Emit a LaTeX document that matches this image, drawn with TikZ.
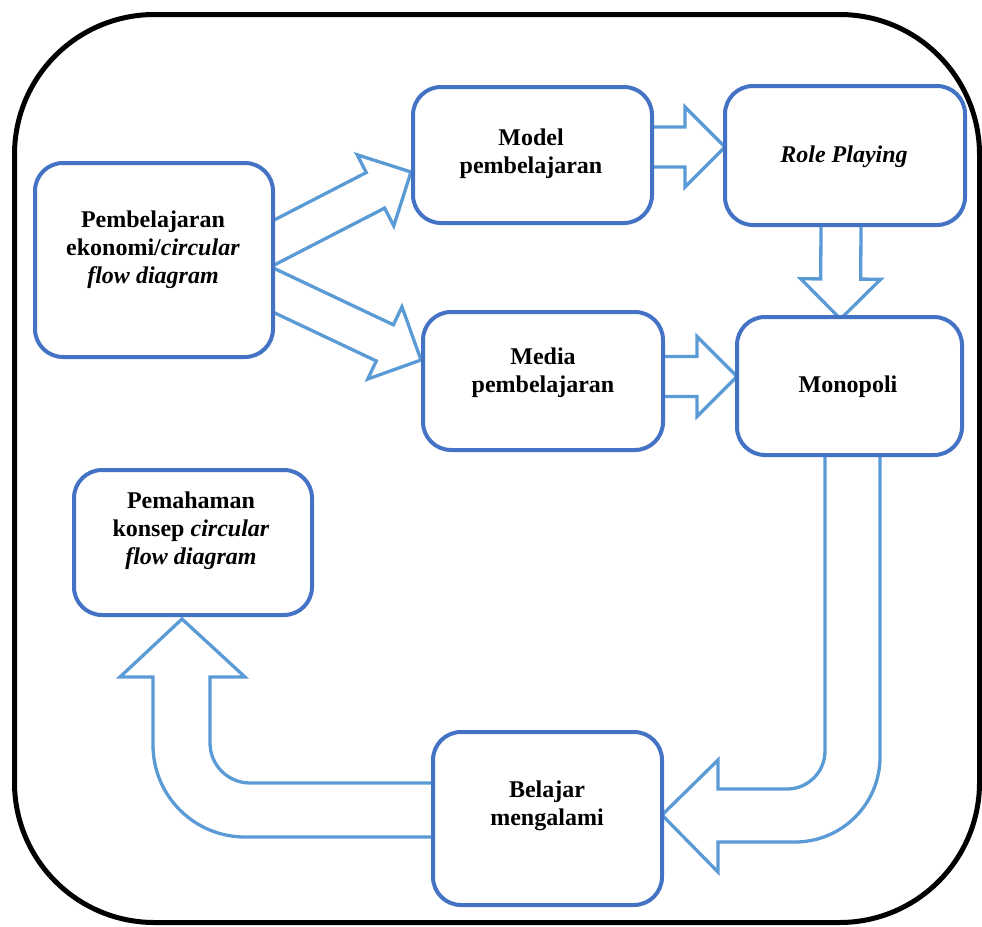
\documentclass[tikz,border=0pt]{standalone}
\usepackage{fontspec}
\setmainfont{Liberation Serif}
\usetikzlibrary{calc}
\pgfdeclarelayer{arrowlayer}
\pgfsetlayers{arrowlayer,main}
\definecolor{boxblue}{HTML}{4472C4}
\definecolor{arrblue}{HTML}{5B9BD5}
\newcommand\blockarrow[2]{%
  \coordinate (ba-s) at #1;
  \coordinate (ba-t) at #2;
  \coordinate (ba-h) at ($(ba-t)!40pt!(ba-s)$);
  \draw[arrowline] ($(ba-s)!20pt!90:(ba-t)$) -- ($(ba-h)!20pt!90:(ba-t)$) -- ($(ba-h)!40pt!90:(ba-t)$) -- (ba-t) -- ($(ba-h)!40pt!-90:(ba-t)$) -- ($(ba-h)!20pt!-90:(ba-t)$) -- ($(ba-s)!20pt!-90:(ba-t)$);
}
\begin{document}
\begin{tikzpicture}[x=1pt,y=1pt,
  box/.style={draw=boxblue, line width=4pt, rounded corners=28pt, inner sep=0pt, outer sep=0pt, fill=white},
  txt/.style={align=center, font=\fontsize{24}{28}\selectfont\bfseries, inner sep=0pt},
  arrowline/.style={draw=arrblue, line width=3.3pt, miter limit=10}]
\useasboundingbox (0,0) rectangle (982,-926);
% outer frame
\draw[line width=5pt, rounded corners=140pt] (14.5,-14.5) rectangle (979.5,-922.5);
% boxes
\node[box, minimum width=238pt, minimum height=194pt] (A) at (154,-260) {};
\node[box, minimum width=239pt, minimum height=136pt] (B) at (532.5,-155) {};
\node[box, minimum width=240pt, minimum height=139pt] (C) at (845,-155.5) {};
\node[box, minimum width=240pt, minimum height=138pt] (D) at (543,-381) {};
\node[box, minimum width=225pt, minimum height=138pt] (E) at (849.5,-386) {};
\node[box, minimum width=238pt, minimum height=145pt] (F) at (193,-542.5) {};
\node[box, minimum width=229pt, minimum height=173pt] (G) at (547.5,-818.5) {};
% texts
\node[txt] (At) at (153,-250) {Pembelajaran\\ekonomi/\textit{circular}\\\textit{flow diagram}};
\node[txt] (Bt) at (531,-154) {Model\\pembelajaran};
\node[txt] (Ct) at (844,-157) {\textit{Role Playing}};
\node[txt] (Dt) at (543,-373) {Media\\pembelajaran};
\node[txt] (Et) at (848,-387) {Monopoli};
\node[txt] (Ft) at (191,-531) {Pemahaman\\konsep \textit{circular}\\\textit{flow diagram}};
\node[txt] (Gt) at (547,-806) {Belajar\\mengalami};
\begin{pgfonlayer}{arrowlayer}
% straight block arrows (bases hidden behind the white boxes)
\blockarrow{($(A.east)+(-24.6,4.2)$)}{($(B.west)+(-2,-17)$)}
\blockarrow{($(A.east)+(-25.1,-18.1)$)}{($(D.west)+(-2,21)$)}
\blockarrow{($(B.east)+(0,8)$)}{($(C.west)+(0,8.5)$)}
\blockarrow{($(D.east)+(0,4.5)$)}{($(E.west)+(0,9.5)$)}
\blockarrow{($(C.south)+(-4,0)$)}{($(E.north)+(-9,-2)$)}
% bent arrow Monopoli -> Belajar mengalami
\draw[arrowline] (880,0 |- E.south) -- (880,-757) arc[start angle=0,end angle=-90,radius=85]
  -- (718,-842) -- (718,-872) -- ($(G.east)+(0,3.5)$) -- (718,-760) -- (718,-789)
  -- (787,-789) arc[start angle=-90,end angle=0,radius=38] -- (825,0 |- E.south);
% bent arrow Belajar mengalami -> Pemahaman
\draw[arrowline] (G.west |- 0,-837) -- (245,-837) arc[start angle=-90,end angle=-180,radius=92]
  -- (153,-677) -- (120,-677) -- ($(F.south)+(-11,-4)$) -- (245,-677) -- (210,-677)
  -- (210,-743) arc[start angle=180,end angle=270,radius=40] -- (G.west |- 0,-783);
\end{pgfonlayer}
\end{tikzpicture}
\end{document}
